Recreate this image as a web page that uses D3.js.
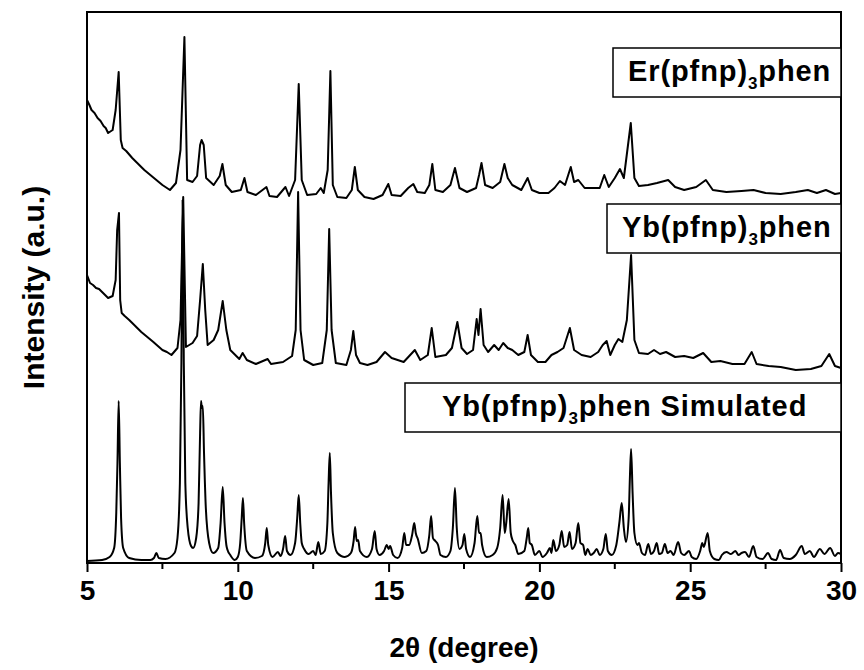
<!DOCTYPE html>
<html>
<head>
<meta charset="utf-8">
<script src="https://cdn.jsdelivr.net/npm/d3@7"></script>
<style>
  body { margin: 0; background: #fff; }
  text { font-family: "Liberation Sans", Arial, sans-serif; font-weight: bold; fill: #000; }
</style>
</head>
<body>
<svg width="864" height="670"></svg>
<script>
// [2theta, intensity (a.u., stacked as plotted)]
var erPattern = [
  [5.0,463],[5.08,458],[5.15,453],[5.25,450],[5.35,445],[5.45,442],[5.55,437],[5.62,435],[5.7,430],[5.85,433],[5.95,453],[6.05,491],[6.12,423],[6.18,415],
  [6.3,412],[6.5,405],[6.7,399],[6.9,393],[7.1,388],[7.3,383],[7.5,378],[7.75,373],[7.95,380],[8.1,413],[8.23,526],[8.32,383],[8.5,381],[8.65,387],
  [8.75,418],[8.8,423],[8.87,418],[8.95,385],[9.2,378],[9.4,387],[9.49,399],[9.6,378],[9.8,371],[10.1,373],
  [10.22,385],[10.32,371],[10.6,368],[10.95,376],[11.05,367],[11.3,366],[11.58,376],[11.7,367],[11.9,383],[12.02,479],
  [12.12,383],[12.3,368],[12.6,369],[12.75,375],[12.85,370],[12.98,393],[13.07,492],[13.15,378],[13.3,366],[13.6,365],
  [13.78,373],[13.88,396],[13.98,373],[14.2,366],[14.5,364],[14.8,368],[14.99,379],[15.1,368],[15.4,367],[15.65,375],
  [15.82,379],[15.95,371],[16.2,370],[16.35,378],[16.45,399],[16.55,373],[16.8,371],[17.05,378],[17.2,395],[17.35,375],
  [17.6,371],[17.9,375],[18.0,388],[18.08,400],[18.2,378],[18.45,375],[18.7,381],[18.84,399],[18.95,385],[19.1,378],
  [19.4,373],[19.61,385],[19.75,373],[20.0,370],[20.3,370],[20.5,375],[20.68,382],[20.85,378],[21.04,396],[21.15,381],
  [21.29,383],[21.5,375],[21.8,375],[22.0,375],[22.15,388],[22.3,376],[22.5,385],[22.67,394],[22.8,385],[23.03,440],
  [23.15,385],[23.3,377],[23.6,378],[23.9,380],[24.27,383],[24.5,376],[24.8,373],[25.2,376],[25.52,383],[25.75,373],
  [26.2,371],[26.7,372],[27.1,373],[27.5,370],[28.0,369],[28.5,371],[28.9,373],[29.2,370],[29.5,373],[29.8,369],[30.0,370]
];

var ybPattern = [
  [5.0,288],[5.1,280],[5.2,278],[5.3,275],[5.4,274],[5.5,271],[5.6,268],[5.7,265],[5.85,267],[5.95,283],[6.0,333],[6.06,350],[6.1,263],
  [6.15,250],[6.25,247],[6.4,243],[6.6,237],[6.8,231],[7.0,226],[7.2,221],[7.35,217],[7.5,213],[7.65,211],[7.8,208],[8.0,215],[8.1,243],[8.19,366],[8.28,216],
  [8.5,220],[8.65,227],[8.75,263],[8.84,299],[8.92,253],[9.0,218],[9.2,223],[9.35,233],[9.5,262],[9.62,233],
  [9.75,213],[10.05,204],[10.16,210],[10.3,203],[10.6,199],[10.99,204],[11.1,199],[11.5,201],[11.8,207],[11.92,233],
  [12.0,371],[12.08,233],[12.2,203],[12.5,198],[12.8,200],[12.95,233],[13.03,334],[13.11,233],[13.25,200],[13.6,198],
  [13.75,213],[13.83,232],[13.92,208],[14.05,200],[14.3,198],[14.6,201],[14.88,211],[15.1,205],[15.5,201],[15.87,213],
  [16.05,203],[16.3,208],[16.43,235],[16.55,206],[16.9,208],[17.1,215],[17.28,241],[17.42,215],[17.6,209],[17.8,213],
  [17.92,244],[17.98,228],[18.05,254],[18.15,218],[18.3,211],[18.5,218],[18.65,213],[18.8,220],[18.95,215],[19.1,213],
  [19.3,208],[19.5,211],[19.61,228],[19.72,208],[19.95,201],[20.2,201],[20.4,208],[20.6,211],[20.8,215],[21.01,235],
  [21.15,213],[21.4,208],[21.7,206],[21.95,211],[22.1,218],[22.23,222],[22.35,208],[22.5,218],[22.62,224],[22.75,221],
  [22.9,243],[23.04,308],[23.15,223],[23.3,210],[23.6,209],[23.8,213],[24.0,209],[24.2,211],[24.5,206],[24.8,207],
  [25.1,205],[25.43,210],[25.7,201],[26.0,202],[26.4,199],[26.8,199],[27.04,211],[27.2,199],[27.6,197],[28.0,196],
  [28.5,193],[29.0,194],[29.35,197],[29.61,209],[29.8,197],[30.0,195]
];

var simPattern = [
  [5.0,2],[5.5,3],[5.75,6],[5.9,15],[5.97,50],[6.01,100],[6.05,162],[6.09,100],[6.13,45],[6.2,15],
  [6.4,5],[6.8,3],[7.1,3],[7.22,5],[7.3,10],[7.38,5],[7.6,4],[7.9,10],[8.0,25],[8.08,80],
  [8.13,200],[8.17,363],[8.21,200],[8.26,80],[8.34,35],[8.45,17],[8.52,15],[8.62,25],[8.7,60],[8.75,130],
  [8.78,162],[8.81,155],[8.84,157],[8.88,110],[8.94,55],[9.05,20],[9.18,10],[9.35,15],[9.43,40],[9.5,76],
  [9.56,40],[9.62,18],[9.66,13],[9.75,8],[9.9,3],[10.0,6],[10.08,20],[10.13,45],[10.17,65],[10.21,40],
  [10.3,12],[10.57,5],[10.8,7],[10.91,20],[10.96,35],[11.01,18],[11.15,6],[11.33,11],[11.42,7],[11.5,14],
  [11.57,27],[11.63,12],[11.75,8],[11.9,20],[11.97,45],[12.02,68],[12.07,40],[12.12,20],[12.2,14],[12.35,9],
  [12.5,12],[12.58,8],[12.67,21],[12.75,9],[12.88,12],[12.97,40],[13.01,80],[13.05,110],[13.09,70],[13.15,30],
  [13.3,10],[13.55,6],[13.75,10],[13.84,22],[13.89,36],[13.94,22],[13.99,23],[14.05,12],[14.28,6],[14.45,14],
  [14.54,32],[14.6,14],[14.7,8],[14.85,12],[14.94,18],[15.0,14],[15.05,17],[15.15,8],[15.3,5],[15.45,15],
  [15.52,30],[15.58,18],[15.68,18],[15.78,28],[15.85,40],[15.9,30],[15.97,24],[16.1,10],[16.25,12],[16.35,28],
  [16.41,47],[16.47,25],[16.55,22],[16.64,18],[16.72,8],[16.9,6],[17.05,12],[17.13,35],[17.2,75],[17.26,35],
  [17.35,14],[17.45,18],[17.51,29],[17.57,14],[17.7,6],[17.85,20],[17.94,47],[18.0,30],[18.05,30],[18.1,18],
  [18.25,6],[18.45,8],[18.6,15],[18.7,35],[18.78,68],[18.85,30],[18.9,40],[18.98,64],[19.05,30],[19.12,22],
  [19.2,18],[19.3,9],[19.5,12],[19.58,25],[19.63,35],[19.68,20],[19.75,18],[19.85,8],[20.0,12],[20.1,6],
  [20.25,10],[20.35,15],[20.4,10],[20.46,23],[20.55,12],[20.66,18],[20.74,32],[20.82,16],[20.92,18],[21.0,31],
  [21.08,14],[21.2,20],[21.29,40],[21.36,20],[21.45,18],[21.52,8],[21.6,14],[21.7,8],[21.8,10],[21.9,14],
  [22.0,8],[22.12,14],[22.2,29],[22.27,12],[22.4,8],[22.55,18],[22.65,40],[22.73,60],[22.8,35],[22.87,21],
  [22.96,45],[23.0,85],[23.04,114],[23.09,70],[23.15,30],[23.25,18],[23.3,20],[23.4,10],[23.5,8],[23.61,19],
  [23.7,9],[23.8,12],[23.89,20],[23.97,9],[24.06,10],[24.16,19],[24.25,10],[24.35,12],[24.45,8],[24.6,21],
  [24.7,10],[24.8,8],[24.96,12],[25.05,6],[25.2,4],[25.33,12],[25.4,20],[25.45,16],[25.58,30],[25.65,12],
  [25.8,4],[25.95,3],[26.05,8],[26.2,11],[26.35,9],[26.5,12],[26.6,8],[26.7,10],[26.82,11],[26.95,6],
  [27.09,17],[27.2,6],[27.4,4],[27.58,10],[27.7,4],[27.85,3],[27.98,13],[28.1,5],[28.3,4],[28.5,8],
  [28.7,17],[28.8,9],[28.97,12],[29.1,6],[29.3,14],[29.45,9],[29.64,15],[29.8,7],[29.9,10],[30.0,9]
];

var majorTicks = [5, 10, 15, 20, 25, 30];
var minorTicks = [7.5, 12.5, 17.5, 22.5, 27.5];

var labels = [
  { pre: "Er(pfnp)", sub: "3", post: "phen", box: [613, 48, 228, 49], tx: 628 },
  { pre: "Yb(pfnp)", sub: "3", post: "phen", box: [607, 204, 234, 49], tx: 622 },
  { pre: "Yb(pfnp)", sub: "3", post: "phen Simulated", box: [405, 383, 436, 49], tx: 442 }
];

(function() {
  var svg = d3.select("svg"),
    x0 = 87, x1 = 841, y0 = 12, y1 = 563;

  var x = d3.scaleLinear().domain([5, 30]).range([x0, x1]);
  var y = d3.scaleLinear().domain([0, 551]).range([y1, y0]);

  var line = d3.line()
    .x(function(d) { return x(d[0]); })
    .y(function(d) { return y(d[1]); });

  // measured patterns: straight segments; simulated: smooth profile
  [[erPattern, d3.curveLinear], [ybPattern, d3.curveLinear], [simPattern, d3.curveMonotoneX]].forEach(function(p) {
    svg.append("path")
      .datum(p[0])
      .attr("d", line.curve(p[1]))
      .attr("fill", "none")
      .attr("stroke", "#000")
      .attr("stroke-width", 2)
      .attr("stroke-linejoin", "round");
  });

  // frame
  svg.append("rect")
    .attr("x", x0).attr("y", y0)
    .attr("width", x1 - x0).attr("height", y1 - y0)
    .attr("fill", "none").attr("stroke", "#000").attr("stroke-width", 2);

  // x axis
  var xAxis = svg.append("g").attr("transform", "translate(0," + y1 + ")")
    .call(d3.axisBottom(x).tickValues(majorTicks).tickSize(9).tickPadding(8).tickFormat(d3.format("d")));
  xAxis.select(".domain").remove();
  xAxis.selectAll(".tick line").attr("stroke-width", 2);
  xAxis.selectAll(".tick text")
    .attr("font-size", 28)
    .attr("font-family", "'Liberation Sans', Arial, sans-serif")
    .attr("font-weight", "bold");

  svg.append("g").attr("transform", "translate(0," + y1 + ")")
    .selectAll("line").data(minorTicks).enter().append("line")
    .attr("x1", function(d) { return x(d); }).attr("x2", function(d) { return x(d); })
    .attr("y1", 0).attr("y2", 6)
    .attr("stroke", "#000").attr("stroke-width", 2);

  svg.append("text")
    .attr("x", (x0 + x1) / 2).attr("y", 657)
    .attr("text-anchor", "middle")
    .attr("font-size", 28)
    .text("2\u03b8 (degree)");

  svg.append("text")
    .attr("transform", "translate(44," + (y0 + y1) / 2 + ") rotate(-90)")
    .attr("text-anchor", "middle")
    .attr("font-size", 30)
    .text("Intensity (a.u.)");

  // label boxes
  labels.forEach(function(l) {
    svg.append("rect")
      .attr("x", l.box[0]).attr("y", l.box[1])
      .attr("width", l.box[2]).attr("height", l.box[3])
      .attr("fill", "#fff").attr("stroke", "#000").attr("stroke-width", 1.5);
    var t = svg.append("text")
      .attr("x", l.tx).attr("y", l.box[1] + 33)
      .attr("font-size", 29)
      .attr("letter-spacing", "0.9px");
    t.append("tspan").text(l.pre);
    t.append("tspan").attr("font-size", 17).attr("dy", 8).text(l.sub);
    t.append("tspan").attr("dy", -8).text(l.post);
  });
})();
</script>
</body>
</html>
